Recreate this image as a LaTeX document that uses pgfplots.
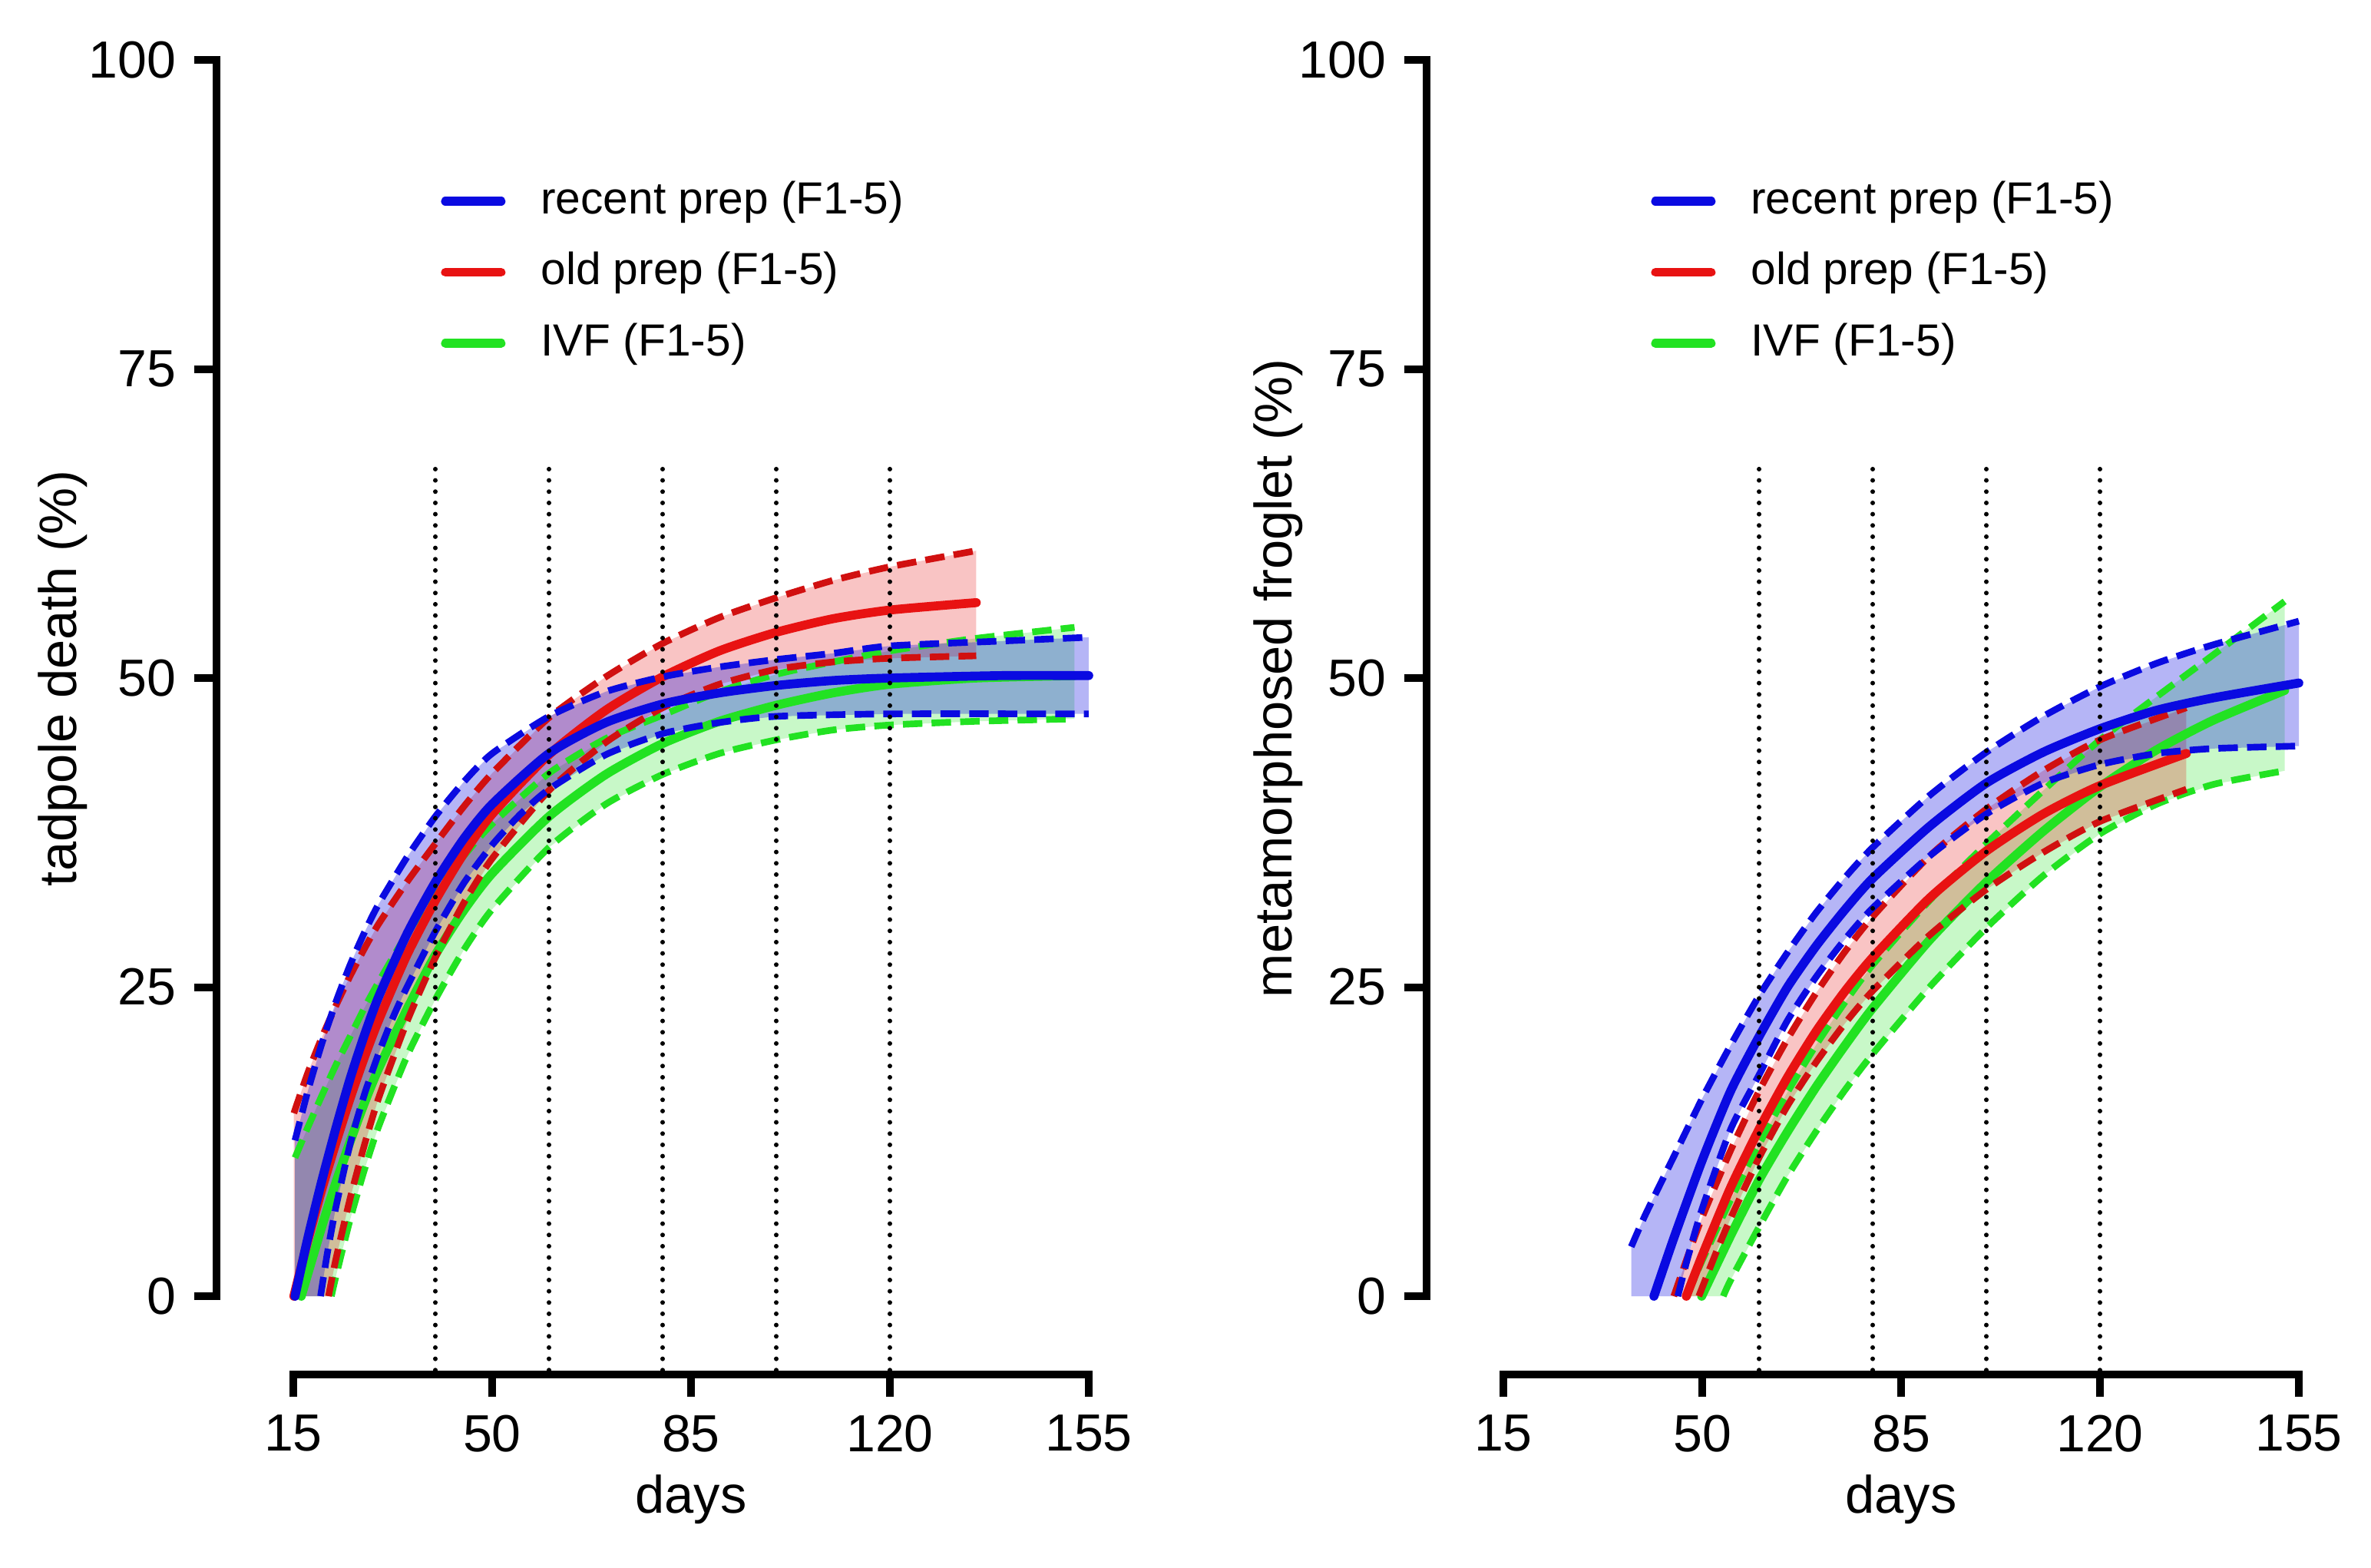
\documentclass[border=0pt]{standalone}
\usepackage{fontspec}
\setmainfont{Liberation Sans}
\usepackage{pgfplots}
\pgfplotsset{compat=1.18}
\definecolor{cb}{RGB}{10,10,225}
\definecolor{cr}{RGB}{232,18,18}
\definecolor{cg}{RGB}{34,226,34}
\pgfplotsset{
 panel/.style={
  scale only axis, width=155.4pt, height=241.5pt,
  xmin=15,xmax=155,ymin=0,ymax=100, enlargelimits=false,
  axis lines*=left,
  axis line style={line width=1.5pt, line cap=rect, black},
  axis x line shift=15.3pt, axis y line shift=15pt,
  xtick={15,50,85,120,155}, ytick={0,25,50,75,100},
  tick align=outside, major tick length=4.4pt,
  major tick style={line width=1.5pt, black},
  minor tick num=0,
  /pgf/number format/assume math mode=true,
  tick label style={font=\fontsize{10.2}{12}\selectfont},
  label style={font=\fontsize{10.3}{12}\selectfont},
  xlabel=days,
  xlabel style={at={(axis description cs:0.5,0)}, anchor=base, yshift=-42.3pt},
  ylabel style={at={(axis description cs:0,0.5)}, anchor=center},
  clip=false,
  reverse legend,
  legend cell align=left,
  legend image code/.code={\draw[#1, line width=1.7pt, line cap=round, solid] (0.8pt,0pt) -- (11.7pt,0pt);},
  legend style={draw=none, fill=none, inner sep=0pt, outer sep=0pt, anchor=north west, row sep=6.0pt, column sep=6.9pt, font=\fontsize{8.8}{10}\selectfont, nodes={inner sep=0pt}},
 },
 mean/.style={line width=1.75pt, line cap=round, smooth, tension=0.4, no markers},
 band/.style={line width=1.3pt, dash pattern=on 3.8pt off 1.8pt, smooth, tension=0.4, no markers, forget plot},
 fillb/.style={draw=none, forget plot, no markers},
 vline/.style={black, line width=0.9pt, dash pattern=on 0pt off 2.2pt, line cap=round, forget plot, no markers},
}
\begin{document}
\begin{tikzpicture}
\useasboundingbox (-57.3pt,-52.95pt) rectangle (405.9pt,253.2pt);
% ---------------- left panel ----------------
\begin{axis}[panel, at={(0pt,0pt)}, anchor=south west,
  ylabel={tadpole death (\%)}, ylabel style={yshift=45pt},
  legend style={at={(axis cs:41,90.2)}}]
% fills
\addplot[fillb, fill=cg, fill opacity=0.25] coordinates {
(15.3,11.2)(17.5,13.6)(20,16.2)(22.5,18.7)(25,21.0)(27.5,23.3)(30,25.4)(35,29.3)(40,32.6)(45,35.6)(50,38.2)(60,42.3)(70,45.1)(80,47.0)(90,48.9)(100,50.3)(110,51.3)(120,52.2)(135,53.2)(152.5,54.1)
(152.5,46.7)(135,46.5)(120,46.2)(110,45.8)(100,45.0)(90,43.9)(80,42.2)(70,39.8)(60,36.3)(50,31.3)(45,28.0)(40,24.0)(35,19.4)(30,13.7)(27.5,10.2)(25,6.2)(22.5,1.6)(21.7,0)(15.3,0)} -- cycle;
\addplot[fillb, fill=cr, fill opacity=0.25] coordinates {
(15.1,14.8)(17.5,18.0)(20,20.9)(22.5,23.5)(25,25.9)(27.5,28.1)(30,30.1)(35,33.5)(40,36.6)(45,39.6)(50,42.3)(60,46.8)(70,50.1)(80,52.8)(90,54.9)(100,56.5)(110,57.9)(120,59.0)(135.2,60.3)
(135.2,51.8)(120,51.6)(110,51.3)(100,50.7)(90,49.5)(80,47.6)(70,44.8)(60,40.9)(50,35.4)(45,31.8)(40,27.4)(35,22.2)(30,16.0)(27.5,12.2)(25,7.9)(22.5,3.0)(21.2,0)(15.1,0)} -- cycle;
\addplot[fillb, fill=cb, fill opacity=0.3] coordinates {
(15.3,12.6)(17.5,16.5)(20,20.4)(22.5,23.8)(25,26.8)(27.5,29.4)(30,31.7)(35,35.5)(40,38.8)(45,41.6)(50,43.9)(60,46.9)(70,48.9)(80,50.1)(90,50.9)(100,51.5)(110,52.0)(120,52.6)(140,53.0)(155,53.3)
(155,47.1)(120,47.1)(100,46.9)(90,46.4)(80,45.5)(70,43.8)(60,41.0)(55,39.0)(50,36.5)(45,33.4)(40,29.5)(35,25.0)(32.5,22.5)(30,19.6)(27.5,16.3)(25,12.3)(22.5,7.2)(21,3.5)(19.8,0)(15.3,0)} -- cycle;
% green
\addplot[band, cg] coordinates {(15.3,11.2)(17.5,13.6)(20,16.2)(22.5,18.7)(25,21.0)(27.5,23.3)(30,25.4)(35,29.3)(40,32.6)(45,35.6)(50,38.2)(60,42.3)(70,45.1)(80,47.0)(90,48.9)(100,50.3)(110,51.3)(120,52.2)(135,53.2)(152.5,54.1)};
\addplot[band, cg] coordinates {(21.7,0)(22.5,1.6)(25,6.2)(27.5,10.2)(30,13.7)(35,19.4)(40,24.0)(45,28.0)(50,31.3)(60,36.3)(70,39.8)(80,42.2)(90,43.9)(100,45.0)(110,45.8)(120,46.2)(135,46.5)(152.5,46.7)};
\addplot[mean, cg] coordinates {(16.4,0)(20,5.6)(22.5,9.2)(25,12.5)(27.5,15.6)(30,18.4)(35,23.2)(40,27.6)(45,31.2)(50,34.2)(60,38.8)(70,42.2)(80,44.7)(90,46.5)(100,47.8)(110,48.8)(120,49.5)(135,50.0)(152.5,50.2)};
\addlegendentry{IVF (F1-5)}
% red
\addplot[band, cr!90!black] coordinates {(15.1,14.8)(17.5,18.0)(20,20.9)(22.5,23.5)(25,25.9)(27.5,28.1)(30,30.1)(35,33.5)(40,36.6)(45,39.6)(50,42.3)(60,46.8)(70,50.1)(80,52.8)(90,54.9)(100,56.5)(110,57.9)(120,59.0)(135.2,60.3)};
\addplot[band, cr!90!black] coordinates {(21.2,0)(22.5,3.0)(25,7.9)(27.5,12.2)(30,16.0)(35,22.2)(40,27.4)(45,31.8)(50,35.4)(60,40.9)(70,44.8)(80,47.6)(90,49.5)(100,50.7)(110,51.3)(120,51.6)(135.2,51.8)};
\addplot[mean, cr] coordinates {(15.1,0)(17.5,4.4)(20,8.6)(22.5,12.4)(25,16.0)(27.5,19.3)(30,22.3)(35,27.6)(40,32.0)(45,35.8)(50,39.0)(60,43.8)(70,47.4)(80,50.1)(90,52.2)(100,53.7)(110,54.8)(120,55.5)(135.2,56.1)};
\addlegendentry{old prep (F1-5)}
% blue
\addplot[band, cb] coordinates {(15.3,12.6)(17.5,16.5)(20,20.4)(22.5,23.8)(25,26.8)(27.5,29.4)(30,31.7)(35,35.5)(40,38.8)(45,41.6)(50,43.9)(60,46.9)(70,48.9)(80,50.1)(90,50.9)(100,51.5)(110,52.0)(120,52.6)(140,53.0)(155,53.3)};
\addplot[band, cb] coordinates {(19.8,0)(21,3.5)(22.5,7.2)(25,12.3)(27.5,16.3)(30,19.6)(32.5,22.5)(35,25.0)(40,29.5)(45,33.4)(50,36.5)(55,39.0)(60,41.0)(70,43.8)(80,45.5)(90,46.4)(100,46.9)(120,47.1)(155,47.1)};
\addplot[mean, cb] coordinates {(15.3,0)(17.5,4.6)(20,9.3)(22.5,13.6)(25,17.6)(27.5,21.1)(30,24.2)(35,29.3)(40,33.5)(45,37.0)(50,39.8)(60,43.9)(70,46.4)(80,47.9)(90,48.8)(100,49.4)(110,49.8)(120,50.0)(140,50.2)(155,50.2)};
\addlegendentry{recent prep (F1-5)}
% dotted day markers
\addplot[vline] coordinates {(40,66.9)(40,-6.34)};
\addplot[vline] coordinates {(60,66.9)(60,-6.34)};
\addplot[vline] coordinates {(80,66.9)(80,-6.34)};
\addplot[vline] coordinates {(100,66.9)(100,-6.34)};
\addplot[vline] coordinates {(120,66.9)(120,-6.34)};
\end{axis}
% ---------------- right panel ----------------
\begin{axis}[panel, at={(236.4pt,0pt)}, anchor=south west,
  ylabel={metamorphosed froglet (\%)}, ylabel style={yshift=44pt},
  legend style={at={(axis cs:41,90.2)}}]
\addplot[fillb, fill=cg, fill opacity=0.25] coordinates {
(47.3,0)(50,2.9)(55,7.8)(60,12.3)(65,16.5)(70,20.3)(75,23.7)(80,26.8)(90,32.0)(100,36.6)(110,40.9)(120,45.0)(130,48.5)(140,51.9)(152.5,56.2)
(152.5,42.5)(140,41.4)(130,39.8)(120,37.4)(110,34.0)(100,29.8)(90,25.0)(80,19.6)(75,16.6)(70,13.3)(65,9.7)(60,5.6)(55,1.3)(53.7,0)} -- cycle;
\addplot[fillb, fill=cr, fill opacity=0.25] coordinates {
(45,0)(47.5,3.3)(50,6.4)(55,11.8)(60,16.6)(65,20.8)(70,24.5)(75,27.8)(80,30.7)(90,35.6)(100,39.4)(110,42.5)(120,45.0)(135.2,47.6)
(135.2,41.0)(120,38.4)(110,35.9)(100,32.9)(90,29.2)(80,24.7)(75,22.0)(70,18.9)(65,15.4)(60,11.2)(55,6.3)(52.5,3.6)(49.4,0)} -- cycle;
\addplot[fillb, fill=cb, fill opacity=0.3] coordinates {
(37.5,4.0)(40,6.6)(45,11.3)(50,16.0)(55,20.3)(60,24.3)(65,27.8)(70,31.0)(75,33.8)(80,36.3)(90,40.5)(100,44.0)(110,46.9)(120,49.3)(130,51.2)(140,52.7)(155,54.6)
(155,44.5)(140,44.3)(130,43.9)(120,43.0)(110,41.5)(100,39.0)(90,35.6)(80,31.4)(75,28.8)(70,25.8)(65,22.3)(60,17.9)(55,13.5)(50,7.1)(47.5,3.2)(45.7,0)(37.5,0)} -- cycle;
% green
\addplot[band, cg] coordinates {(47.3,0)(50,2.9)(55,7.8)(60,12.3)(65,16.5)(70,20.3)(75,23.7)(80,26.8)(90,32.0)(100,36.6)(110,40.9)(120,45.0)(130,48.5)(140,51.9)(152.5,56.2)};
\addplot[band, cg] coordinates {(53.7,0)(55,1.3)(60,5.6)(65,9.7)(70,13.3)(75,16.6)(80,19.6)(90,25.0)(100,29.8)(110,34.0)(120,37.4)(130,39.8)(140,41.4)(152.5,42.5)};
\addplot[mean, cg] coordinates {(49.9,0)(55,4.9)(60,9.4)(65,13.3)(70,16.9)(75,20.2)(80,23.3)(90,28.8)(100,33.5)(110,37.6)(120,41.2)(130,44.2)(140,46.6)(152.5,49.0)};
\addlegendentry{IVF (F1-5)}
% red
\addplot[band, cr!90!black] coordinates {(45,0)(47.5,3.3)(50,6.4)(55,11.8)(60,16.6)(65,20.8)(70,24.5)(75,27.8)(80,30.7)(90,35.6)(100,39.4)(110,42.5)(120,45.0)(135.2,47.6)};
\addplot[band, cr!90!black] coordinates {(49.4,0)(52.5,3.6)(55,6.3)(60,11.2)(65,15.4)(70,18.9)(75,22.0)(80,24.7)(90,29.2)(100,32.9)(110,35.9)(120,38.4)(135.2,41.0)};
\addplot[mean, cr] coordinates {(47.2,0)(50,3.3)(55,8.8)(60,13.5)(65,17.7)(70,21.4)(75,24.6)(80,27.4)(90,32.2)(100,36.0)(110,39.0)(120,41.3)(135.2,43.9)};
\addlegendentry{old prep (F1-5)}
% blue
\addplot[band, cb] coordinates {(37.5,4.0)(40,6.6)(45,11.3)(50,16.0)(55,20.3)(60,24.3)(65,27.8)(70,31.0)(75,33.8)(80,36.3)(90,40.5)(100,44.0)(110,46.9)(120,49.3)(130,51.2)(140,52.7)(155,54.6)};
\addplot[band, cb] coordinates {(45.7,0)(47.5,3.2)(50,7.1)(55,13.5)(60,17.9)(65,22.3)(70,25.8)(75,28.8)(80,31.4)(90,35.6)(100,39.0)(110,41.5)(120,43.0)(130,43.9)(140,44.3)(155,44.5)};
\addplot[mean, cb] coordinates {(41.5,0)(45,4.7)(50,11.0)(55,16.6)(60,21.0)(65,25.0)(70,28.3)(75,31.2)(80,33.8)(90,38.0)(100,41.5)(110,44.0)(120,45.9)(130,47.4)(140,48.4)(155,49.6)};
\addlegendentry{recent prep (F1-5)}
\addplot[vline] coordinates {(60,66.9)(60,-6.34)};
\addplot[vline] coordinates {(80,66.9)(80,-6.34)};
\addplot[vline] coordinates {(100,66.9)(100,-6.34)};
\addplot[vline] coordinates {(120,66.9)(120,-6.34)};
\end{axis}
\end{tikzpicture}
\end{document}
